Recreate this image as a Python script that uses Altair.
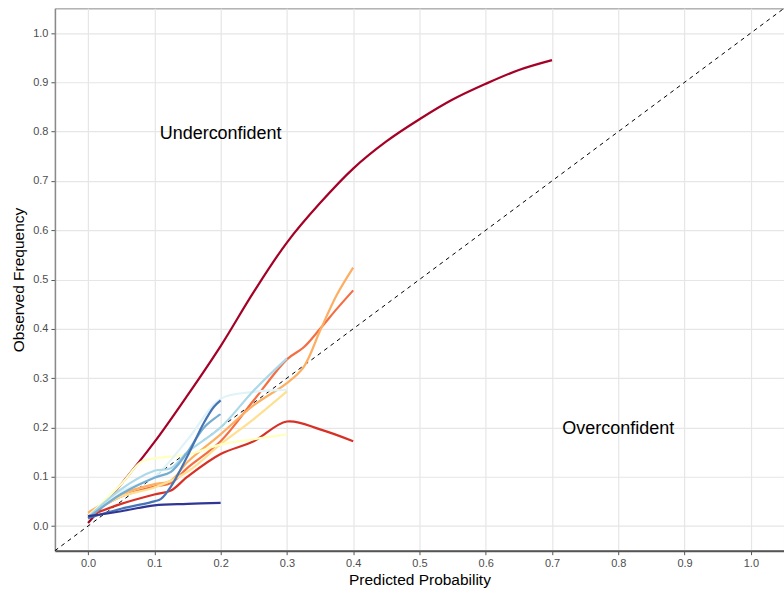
import altair as alt
import pandas as pd

# ---- data ----
series_names = ["M01", "M02", "M03", "M04", "M05", "M06", "M07", "M08", "M09", "M10", "M11"]
series_colors = ["#A50026", "#D73027", "#F46D43", "#FDAE61", "#FEE090", "#FFFFBF",
                 "#E0F3F8", "#ABD9E9", "#74ADD1", "#4575B4", "#313695"]

m01_x = [0.0, 0.05, 0.1, 0.15, 0.2, 0.25, 0.3, 0.35, 0.4, 0.45, 0.5, 0.55, 0.6, 0.65, 0.7]
m01_y = [0.006, 0.085, 0.17, 0.265, 0.365, 0.475, 0.575, 0.655, 0.725, 0.78, 0.825, 0.865, 0.897, 0.925, 0.945]

m02_x = [0.0, 0.05, 0.1, 0.125, 0.15, 0.2, 0.25, 0.3, 0.35, 0.4]
m02_y = [0.02, 0.045, 0.064, 0.072, 0.1, 0.146, 0.172, 0.212, 0.196, 0.172]

m03_x = [0.0, 0.05, 0.1, 0.125, 0.15, 0.2, 0.25, 0.3, 0.325, 0.35, 0.375, 0.4]
m03_y = [0.022, 0.06, 0.08, 0.087, 0.118, 0.172, 0.255, 0.338, 0.362, 0.4, 0.44, 0.478]

m04_x = [0.0, 0.05, 0.1, 0.125, 0.15, 0.2, 0.25, 0.3, 0.325, 0.35, 0.375, 0.4]
m04_y = [0.027, 0.065, 0.085, 0.092, 0.13, 0.186, 0.245, 0.29, 0.322, 0.396, 0.468, 0.524]

m05_x = [0.0, 0.05, 0.1, 0.15, 0.2, 0.25, 0.3]
m05_y = [0.022, 0.06, 0.078, 0.11, 0.166, 0.217, 0.273]

m06_x = [0.0, 0.05, 0.08, 0.1, 0.15, 0.2, 0.25, 0.3]
m06_y = [0.02, 0.085, 0.13, 0.137, 0.145, 0.165, 0.176, 0.186]

m07_x = [0.0, 0.05, 0.1, 0.15, 0.2, 0.25, 0.3]
m07_y = [0.018, 0.07, 0.1, 0.175, 0.258, 0.272, 0.276]

m08_x = [0.0, 0.05, 0.1, 0.125, 0.15, 0.2, 0.25, 0.3]
m08_y = [0.018, 0.075, 0.112, 0.117, 0.15, 0.2, 0.275, 0.34]

m09_x = [0.0, 0.05, 0.1, 0.125, 0.15, 0.175, 0.2]
m09_y = [0.016, 0.065, 0.098, 0.11, 0.15, 0.2, 0.227]

m10_x = [0.0, 0.05, 0.1, 0.11, 0.125, 0.15, 0.175, 0.19, 0.2]
m10_y = [0.016, 0.035, 0.05, 0.055, 0.08, 0.142, 0.21, 0.242, 0.255]

m11_x = [0.0, 0.05, 0.1, 0.15, 0.2]
m11_y = [0.02, 0.03, 0.042, 0.045, 0.047]

all_x = [m01_x, m02_x, m03_x, m04_x, m05_x, m06_x, m07_x, m08_x, m09_x, m10_x, m11_x]
all_y = [m01_y, m02_y, m03_y, m04_y, m05_y, m06_y, m07_y, m08_y, m09_y, m10_y, m11_y]

diag_x = [-0.05, 1.05]
diag_y = [-0.05, 1.05]

label_text = ["Underconfident", "Overconfident"]
label_x = [0.2, 0.8]
label_y = [0.8, 0.2]

tick_values = [0.0, 0.1, 0.2, 0.3, 0.4, 0.5, 0.6, 0.7, 0.8, 0.9, 1.0]

# ---- build tables ----
rows = []
for name, xs, ys in zip(series_names, all_x, all_y):
    for i, (a, b) in enumerate(zip(xs, ys)):
        rows.append({"model": name, "order": i, "x": a, "y": b})
curves = pd.DataFrame(rows)
diag = pd.DataFrame({"x": diag_x, "y": diag_y})
labels = pd.DataFrame({"text": label_text, "x": label_x, "y": label_y})

xscale = alt.Scale(domain=[-0.05, 1.05], nice=False, zero=False)
yscale = alt.Scale(domain=[-0.05, 1.05], nice=False, zero=False)

xaxis = alt.Axis(title="Predicted Probability", values=tick_values, format=".1f",
                 domainColor="#555555", domainWidth=2, tickColor="#555555",
                 tickSize=4, labelPadding=3, titlePadding=4)
yaxis = alt.Axis(title="Observed Frequency", values=tick_values, format=".1f",
                 domainColor="#8a8a8a", domainWidth=1.5, tickColor="#555555",
                 tickSize=4, labelPadding=3, titlePadding=6)

base_grid = alt.Chart(diag).mark_line(opacity=0).encode(
    x=alt.X("x:Q", scale=xscale, axis=xaxis),
    y=alt.Y("y:Q", scale=yscale, axis=yaxis),
)

diag_line = alt.Chart(diag).mark_line(color="black", strokeWidth=1, strokeDash=[4, 4]).encode(
    x=alt.X("x:Q", scale=xscale),
    y=alt.Y("y:Q", scale=yscale),
)

lines = alt.Chart(curves).mark_line(strokeWidth=2.2, interpolate="catmull-rom").encode(
    x=alt.X("x:Q", scale=xscale),
    y=alt.Y("y:Q", scale=yscale),
    color=alt.Color("model:N", scale=alt.Scale(domain=series_names, range=series_colors), legend=None),
    order=alt.Order("order:Q"),
)

text = alt.Chart(labels).mark_text(fontSize=18, font="Liberation Sans", color="black", dy=2).encode(
    x=alt.X("x:Q", scale=xscale),
    y=alt.Y("y:Q", scale=yscale),
    text="text:N",
)

chart = alt.layer(base_grid, diag_line, lines, text).properties(
    width=730, height=543,
    autosize=alt.AutoSizeParams(type="none"),
    padding={"left": 55, "top": 8, "right": 0, "bottom": 39},
).configure_view(
    stroke="#8a8a8a", strokeWidth=1
).configure_axis(
    gridColor="#e6e6e6", gridWidth=1.2,
    labelFont="Liberation Sans", labelFontSize=11, labelColor="#4d4d4d",
    titleFont="Liberation Sans", titleFontSize=15.5, titleColor="black", titleFontWeight="normal",
)

chart.save("out.html", embed_options={"renderer": "svg", "actions": False})
